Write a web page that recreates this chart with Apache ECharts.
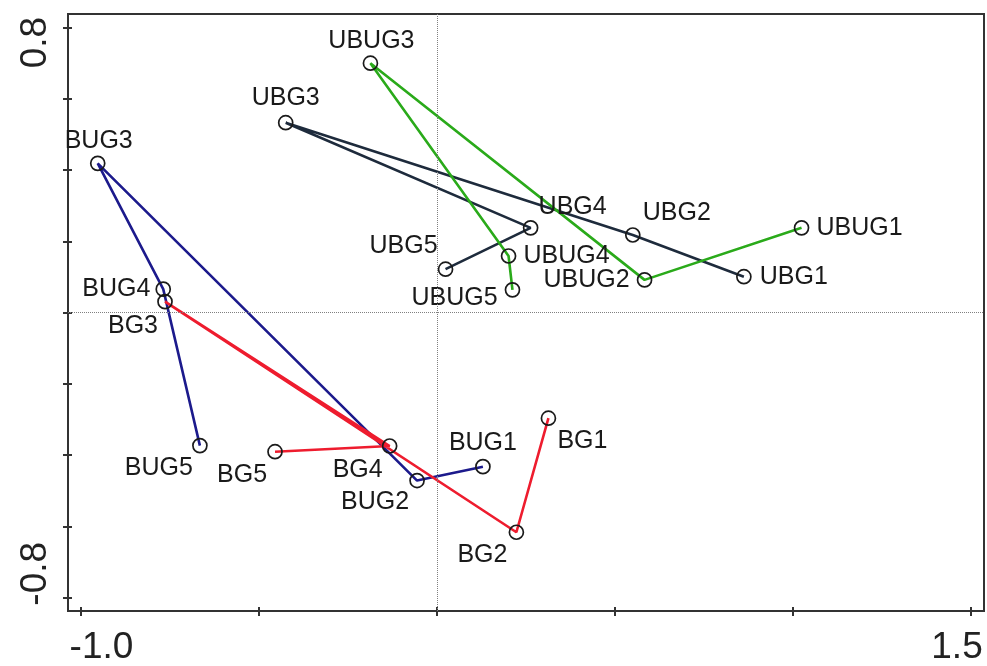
<!DOCTYPE html>
<html>
<head>
<meta charset="utf-8">
<title>Ordination plot</title>
<script src="https://cdn.jsdelivr.net/npm/echarts@6/dist/echarts.min.js"></script>
<style>
  html, body { margin: 0; padding: 0; background: #fff; }
  #chart { width: 987px; height: 666px; }
</style>
</head>
<body>
<div id="chart"></div>
<script>
// Sample scores on the first two ordination axes, one group per treatment.
const bgNames = ['BG1', 'BG2', 'BG3', 'BG4', 'BG5'];
const bgX = [0.313, 0.223, -0.764, -0.133, -0.455];
const bgY = [-0.296, -0.616, 0.031, -0.374, -0.390];

const bugNames = ['BUG1', 'BUG2', 'BUG3', 'BUG4', 'BUG5'];
const bugX = [0.129, -0.056, -0.953, -0.769, -0.666];
const bugY = [-0.432, -0.471, 0.419, 0.066, -0.373];

const ubgNames = ['UBG1', 'UBG2', 'UBG3', 'UBG4', 'UBG5'];
const ubgX = [0.862, 0.550, -0.425, 0.263, 0.024];
const ubgY = [0.101, 0.218, 0.533, 0.238, 0.122];

const ubugNames = ['UBUG1', 'UBUG2', 'UBUG3', 'UBUG4', 'UBUG5'];
const ubugX = [1.024, 0.583, -0.187, 0.201, 0.212];
const ubugY = [0.238, 0.092, 0.700, 0.159, 0.064];

// Axis ticks and the two labelled extremes on each axis.
const xTicks = [-1.0, -0.5, 0, 0.5, 1.0, 1.5];
const yTicks = [-0.8, -0.6, -0.4, -0.2, 0, 0.2, 0.4, 0.6, 0.8];
const xTickLabels = [-1.0, 1.5];
const yTickLabels = [-0.8, 0.8];

// Where each sample name sits around its point (pixel offsets).
const labelPlacement = {
  BG1: { offset: [34, 23] },
  BG2: { offset: [-34, 23] },
  BG3: { offset: [-32, 24] },
  BG4: { offset: [-32, 24] },
  BG5: { offset: [-33, 23] },
  BUG1: { offset: [0, -24] },
  BUG2: { offset: [-42, 22] },
  BUG3: { offset: [1, -22] },
  BUG4: { side: 'left', distance: 5 },
  BUG5: { offset: [-41, 22] },
  UBG1: { side: 'right', distance: 8 },
  UBG2: { offset: [44, -22] },
  UBG3: { offset: [0, -25] },
  UBG4: { offset: [42, -21] },
  UBG5: { offset: [-42, -23] },
  UBUG1: { side: 'right', distance: 7 },
  UBUG2: { side: 'left', distance: 7 },
  UBUG3: { offset: [1, -22] },
  UBUG4: { side: 'right', distance: 7 },
  UBUG5: { offset: [-58, 8] }
};

const FONT = 'Liberation Sans, Arial, Helvetica, sans-serif';

function points(names, xs, ys) {
  return names.map((n, i) => {
    const p = labelPlacement[n];
    const label = p.side
      ? { position: p.side, distance: p.distance }
      : { position: 'inside', offset: p.offset };
    return { name: n, value: [xs[i], ys[i]], label };
  });
}

function groupSeries(names, xs, ys, color) {
  return {
    type: 'line',
    data: points(names, xs, ys),
    symbol: 'circle',
    symbolSize: 14,
    showSymbol: true,
    z: 3,
    lineStyle: { color: color, width: 2.6 },
    itemStyle: { color: 'rgba(255,255,255,0)', borderColor: '#1a1a1a', borderWidth: 1.7 },
    label: {
      show: true,
      formatter: '{b}',
      color: '#1a1a1a',
      fontFamily: FONT,
      fontSize: 25
    },
    emphasis: { disabled: true },
    animation: false
  };
}

const zeroLines = {
  type: 'line',
  data: [],
  z: 1,
  markLine: {
    silent: true,
    symbol: ['none', 'none'],
    label: { show: false },
    lineStyle: { type: 'dotted', color: '#808080', width: 1 },
    data: [{ xAxis: 0 }, { yAxis: 0 }],
    animation: false
  }
};

const axisLineStyle = { color: '#333', width: 2 };
const tickStyle = { color: '#333', width: 2 };

const option = {
  backgroundColor: '#ffffff',
  animation: false,
  grid: {
    left: 68, right: 3, top: 14, bottom: 55,
    show: true, borderColor: '#333', borderWidth: 2, backgroundColor: 'transparent'
  },
  xAxis: [
    {
      type: 'value', min: -1.0365, max: 1.5365, position: 'bottom',
      splitLine: { show: false },
      axisLine: { show: true, onZero: false, lineStyle: axisLineStyle },
      axisTick: { show: true, inside: false, length: 5, lineStyle: tickStyle, customValues: xTicks },
      axisLabel: {
        show: true, margin: 18, customValues: xTickLabels,
        fontFamily: FONT, fontSize: 37, color: '#222',
        formatter: v => (v < 0 ? '{a|' + v.toFixed(1) + '}' : '{b|' + v.toFixed(1) + '}'),
        rich: {
          a: { fontFamily: FONT, fontSize: 37, color: '#222', padding: [0, 0, 0, 41] },
          b: { fontFamily: FONT, fontSize: 37, color: '#222', padding: [0, 28, 0, 0] }
        }
      }
    },
    {
      type: 'value', min: -1.0365, max: 1.5365, position: 'bottom',
      splitLine: { show: false },
      axisLine: { show: false, onZero: false },
      axisTick: { show: true, inside: true, length: 4, lineStyle: tickStyle, customValues: xTicks },
      axisLabel: { show: false }
    }
  ],
  yAxis: [
    {
      type: 'value', min: -0.837, max: 0.838, position: 'left',
      splitLine: { show: false },
      axisLine: { show: true, onZero: false, lineStyle: axisLineStyle },
      axisTick: { show: true, inside: false, length: 5, lineStyle: tickStyle, customValues: yTicks },
      axisLabel: {
        show: true, margin: 14, rotate: 90, customValues: yTickLabels,
        fontFamily: FONT, fontSize: 37, color: '#222',
        formatter: v => (v > 0 ? '{t|' + v.toFixed(1) + '}' : '{d|' + v.toFixed(1) + '}'),
        rich: {
          t: { fontFamily: FONT, fontSize: 37, color: '#222', padding: [0, 30, 0, 0] },
          d: { fontFamily: FONT, fontSize: 37, color: '#222', padding: [0, 0, 0, 48] }
        }
      }
    },
    {
      type: 'value', min: -0.837, max: 0.838, position: 'left',
      splitLine: { show: false },
      axisLine: { show: false, onZero: false },
      axisTick: { show: true, inside: true, length: 4, lineStyle: tickStyle, customValues: yTicks },
      axisLabel: { show: false }
    }
  ],
  series: [
    zeroLines,
    groupSeries(ubgNames, ubgX, ubgY, '#1e2b3c'),
    groupSeries(ubugNames, ubugX, ubugY, '#2aaa1a'),
    groupSeries(bugNames, bugX, bugY, '#1c1a8c'),
    groupSeries(bgNames, bgX, bgY, '#ee1c2e')
  ]
};

const chart = echarts.init(document.getElementById('chart'), null, { renderer: 'canvas' });
chart.setOption(option);
</script>
</body>
</html>
